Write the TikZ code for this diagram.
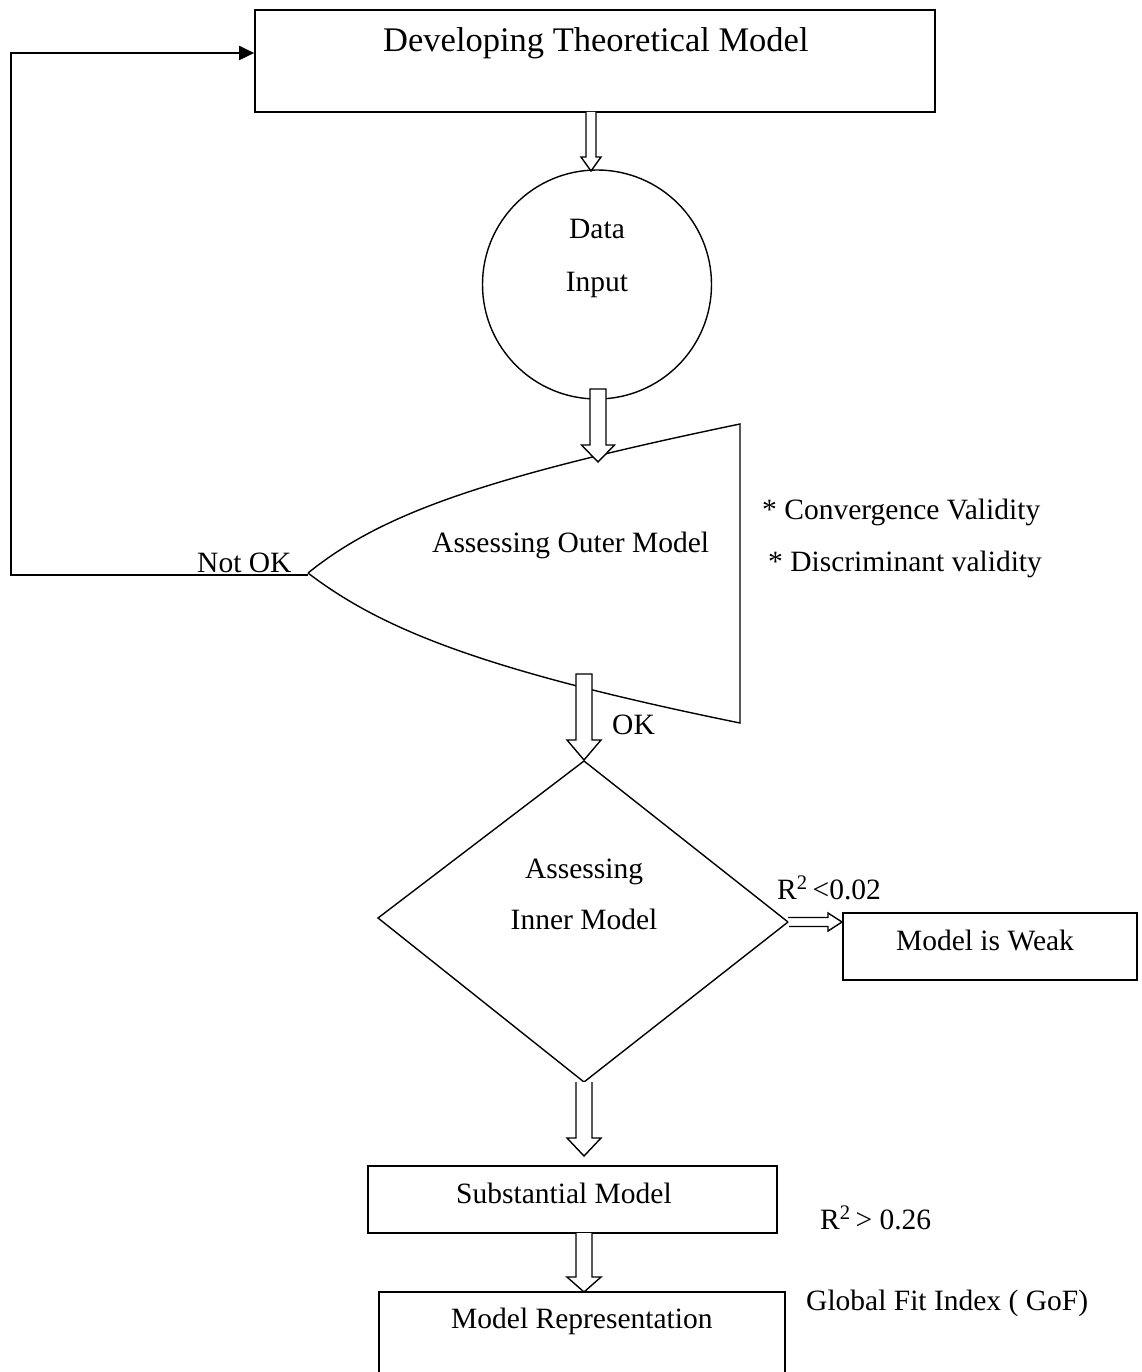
\documentclass[tikz,border=0pt]{standalone}
\usepackage{fontspec}
\setmainfont{Liberation Serif}
\usetikzlibrary{arrows.meta}
\begin{document}
\begin{tikzpicture}[x=1pt,y=-1pt,
  shapeline/.style={draw=black,line width=1.7pt},
  thinline/.style={draw=black,line width=1.4pt},
  blk/.style={draw=black,line width=1.4pt,fill=white,line join=miter},
  lbl/.style={inner sep=0pt,anchor=base west,font=\fontsize{29.5}{34}\selectfont},
  clbl/.style={inner sep=0pt,anchor=base,font=\fontsize{29.5}{34}\selectfont},
  feedback/.style={draw=black,line width=2pt,-{Triangle[length=15pt,width=14pt]}}]
\useasboundingbox (0,0) rectangle (1141,1372);

% ---------- shapes ----------
\node[shapeline,minimum width=680pt,minimum height=102pt,inner sep=0pt] (top) at (595,61) {};
\node[thinline,circle,minimum size=229pt,inner sep=0pt] (data) at (597,284.5) {};
% outer model shape
\coordinate (tip) at (308,573);
\coordinate (ur) at (740,424);
\coordinate (lr) at (740,723);
\draw[thinline] (tip) .. controls (380,515) and (480,478) .. (ur) -- (lr)
   .. controls (480,670) and (380,628) .. (tip);
% inner model diamond
\coordinate (dtop) at (584,761);
\coordinate (dleft) at (378,918);
\coordinate (dright) at (788,922);
\coordinate (dbot) at (584,1082);
\draw[thinline] (dtop) -- (dright) -- (dbot) -- (dleft) -- cycle;
\node[thinline,minimum width=294pt,minimum height=67pt,inner sep=0pt] (weak) at (990,946.5) {};
\node[thinline,minimum width=409pt,minimum height=67pt,inner sep=0pt] (subst) at (572.5,1199.5) {};
\draw[thinline] (379,1400) -- (379,1292) coordinate (rep) -- (785,1292) -- (785,1400);

% ---------- block arrows ----------
% top -> data
\draw[blk] (586,112) -- (586,157) -- (581,157) -- (591,171) -- (601,157) -- (596,157) -- (596,112);
% data -> outer
\draw[blk] (590,389) -- (590,445) -- (581.5,445) -- (598,462) -- (614.5,445) -- (606,445) -- (606,389) -- cycle;
% outer -> inner
\draw[blk] (576,674) -- (576,740) -- (567,740) -- (584,760) -- (601,740) -- (592,740) -- (592,674) -- cycle;
% inner -> weak
\draw[blk] (dright) ++(0,-4.5) -- (828,917.5) -- (828,913) -- (842,922) -- (828,931) -- (828,926.5) -- (789,926.5);
% inner -> substantial
\draw[blk] (576,1082) -- (576,1138) -- (567,1138) -- (584,1156) -- (601,1138) -- (592,1138) -- (592,1082);
% substantial -> representation
\draw[blk] (576,1233) -- (576,1277) -- (567,1277) -- (584,1292) -- (601,1277) -- (592,1277) -- (592,1233);

% ---------- feedback loop ----------
\coordinate (fbl) at (11,575);
\coordinate (fbu) at (11,53);
\draw[feedback] (tip |- fbl) -- (fbl) -- (fbu) -- (fbu -| top.west);

% ---------- labels ----------
\node[lbl,font=\fontsize{34.5}{40}\selectfont] (t1) at (383,52) {Developing Theoretical Model};
\node[clbl] (t2) at (597,239) {Data};
\node[clbl] (t3) at (597,291) {Input};
\node[lbl] (t4) at (432,552) {Assessing Outer Model};
\node[lbl] (t5) at (197,572) {Not OK};
\node[lbl] (t6) at (762,519) {* Convergence Validity};
\node[lbl] (t7) at (768,571) {* Discriminant validity};
\node[lbl] (t8) at (612,734) {OK};
\node[clbl] (t9) at (584,878) {Assessing};
\node[clbl] (t10) at (584,929) {Inner Model};
\node[lbl] (t11) at (777,899) {R\textsuperscript{2}\,<0.02};
\node[clbl] (t12) at (985,950) {Model is Weak};
\node[lbl] (t13) at (456,1203) {Substantial Model};
\node[lbl] (t14) at (820,1229) {R\textsuperscript{2}\,> 0.26};
\node[lbl] (t15) at (806,1310) {Global Fit Index ( GoF)};
\node[lbl] (t16) at (451,1328) {Model Representation};
\end{tikzpicture}
\end{document}
